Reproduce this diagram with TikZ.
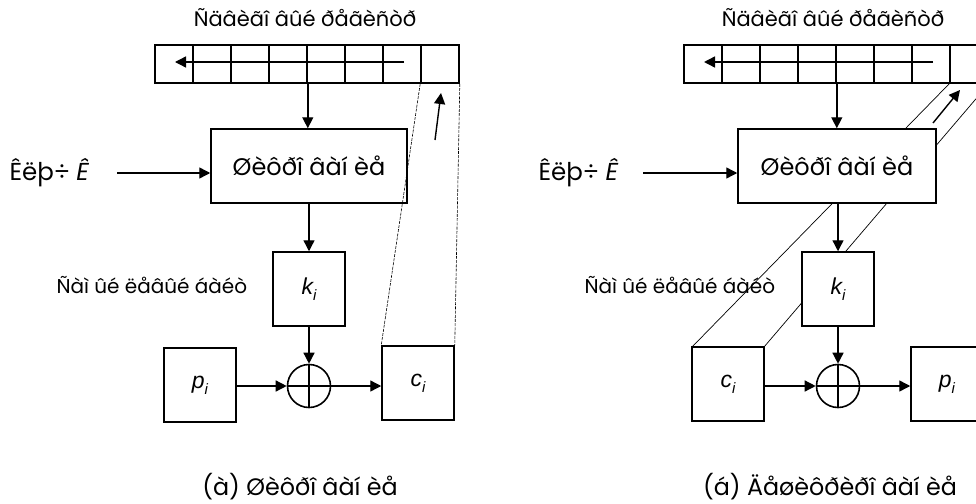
\documentclass[tikz,border=0pt]{standalone}
\usepackage{fontspec}
\setmainfont{Poppins}
\newfontfamily\mathsans{Liberation Sans}
\usetikzlibrary{arrows.meta,calc}
\tikzset{
  box/.style={draw, line width=1.5pt, fill=white, inner sep=0pt},
  cellbox/.style={draw, line width=1.6pt, minimum width=38pt, minimum height=38pt, inner sep=0pt},
  arr/.style={line width=1.4pt, -{Triangle[length=11pt,width=11pt]}},
  xorc/.style={draw, circle, line width=1.6pt, minimum size=43pt, inner sep=0pt, fill=white},
  thin dash/.style={line width=0.6pt, dash pattern=on 3pt off 1.2pt},
  thinline/.style={line width=0.7pt},
  enctxt/.style={font=\fontsize{24}{28}\selectfont},
  keytxt/.style={font=\fontsize{24.5}{28}\selectfont},
  headtxt/.style={font=\fontsize{21}{24}\selectfont},
  labtxt/.style={font=\fontsize{20}{23}\selectfont},
  captxt/.style={font=\fontsize{23.8}{27}\selectfont},
  vartxt/.style={font=\mathsans\itshape\fontsize{23}{26}\selectfont},
}
\newcommand{\sub}[2]{#1\raisebox{-0.25em}{\fontsize{15}{17}\selectfont #2}}
\begin{document}
\begin{tikzpicture}[x=1pt,y=-1pt]
\useasboundingbox (0,0) rectangle (976,503);

% ================= LEFT PANEL =================
\node[headtxt] (Ltitle) at (305,18) {Ñäâèãî âûé ðåãèñòð};
\foreach \i in {1,...,8} {
  \node[cellbox] (L\i) at ({155+19+38*(\i-1)},64) {};
}
\coordinate (LaS) at (404,62);
\coordinate (LaE) at (175,62);
\draw[arr] (LaS) -- (LaE);

\node[box, minimum width=196pt, minimum height=74pt, enctxt] (Lenc) at (309,166) {Øèôðî âàí èå};
\draw[arr] (L4.south east) -- (L4.south east |- Lenc.north);

\node[keytxt, anchor=west] (Lkey) at (6,173) {Êëþ÷ {\itshape Ê}};
\coordinate (LkS) at (117,173);
\draw[arr] (LkS) -- (LkS -| Lenc.west);

\node[box, minimum width=72pt, minimum height=74pt, vartxt] (Lk) at (309,289) {\sub{k}{i}};
\draw[arr] (Lenc.south -| Lk.north) -- (Lk.north);
\node[labtxt, anchor=west] (Llab) at (53,285) {Ñàì ûé ëåâûé áàéò};

\node[xorc] (Lx) at (309,386) {};
\draw[line width=1.6pt] (Lx.north) -- (Lx.south) (Lx.west) -- (Lx.east);
\draw[arr] (Lk.south) -- (Lx.north);

\node[box, minimum width=72pt, minimum height=74pt, vartxt] (Lp) at (200,385) {\sub{p}{i}};
\node[box, minimum width=72pt, minimum height=74pt, vartxt] (Lc) at (418,383) {\sub{c}{i}};
\draw[arr] (Lp.east |- Lx.west) -- (Lx.west);
\draw[arr] (Lx.east) -- (Lx.east -| Lc.west);

\draw[thin dash] (L8.south west) -- (Lc.north west);
\draw[thin dash] (L8.south east) -- (Lc.north east);
\coordinate (LsS) at (435,140);
\coordinate (LsE) at (441,93);
\draw[arr] (LsS) -- (LsE);

\node[captxt] (Lcap) at (300,487) {(à) Øèôðî âàí èå};

% ================= RIGHT PANEL =================
\node[headtxt] (Rtitle) at (833,18) {Ñäâèãî âûé ðåãèñòð};
\foreach \i in {1,...,8} {
  \node[cellbox] (R\i) at ({684+19+38*(\i-1)},64) {};
}
\coordinate (RaS) at (933,62);
\coordinate (RaE) at (704,62);
\draw[arr] (RaS) -- (RaE);

% diagonal guide lines (behind boxes)
\coordinate (Rct) at (692,347);
\coordinate (Rctr) at (764,347);
\draw[thinline] (R8.south west) -- (Rct);
\draw[thinline] (R8.south east) -- (Rctr);

\node[box, minimum width=198pt, minimum height=74pt, enctxt] (Renc) at (837,166) {Øèôðî âàí èå};
\draw[arr] (R4.south east) -- (R4.south east |- Renc.north);

\node[keytxt, anchor=west] (Rkey) at (535,173) {Êëþ÷ {\itshape Ê}};
\coordinate (RkS) at (643,173);
\draw[arr] (RkS) -- (RkS -| Renc.west);

\node[box, minimum width=72pt, minimum height=74pt, vartxt] (Rk) at (838,289) {\sub{k}{i}};
\draw[arr] (Renc.south -| Rk.north) -- (Rk.north);
\node[labtxt, anchor=west] (Rlab) at (581,285) {Ñàì ûé ëåâûé áàéò};

\node[xorc] (Rx) at (838,386) {};
\draw[line width=1.6pt] (Rx.north) -- (Rx.south) (Rx.west) -- (Rx.east);
\draw[arr] (Rk.south) -- (Rx.north);

\node[box, minimum width=72pt, minimum height=74pt, vartxt] (Rc) at (728,384) {\sub{c}{i}};
\node[box, minimum width=72pt, minimum height=74pt, vartxt] (Rp) at (947,384) {\sub{p}{i}};
\draw[arr] (Rc.east |- Rx.west) -- (Rx.west);
\draw[arr] (Rx.east) -- (Rx.east -| Rp.west);

\coordinate (RsS) at (933,123);
\coordinate (RsE) at (960,90);
\draw[arr] (RsS) -- (RsE);

\node[captxt] (Rcap) at (830,487) {(á) Äåøèôðèðî âàí èå};
\end{tikzpicture}
\end{document}
